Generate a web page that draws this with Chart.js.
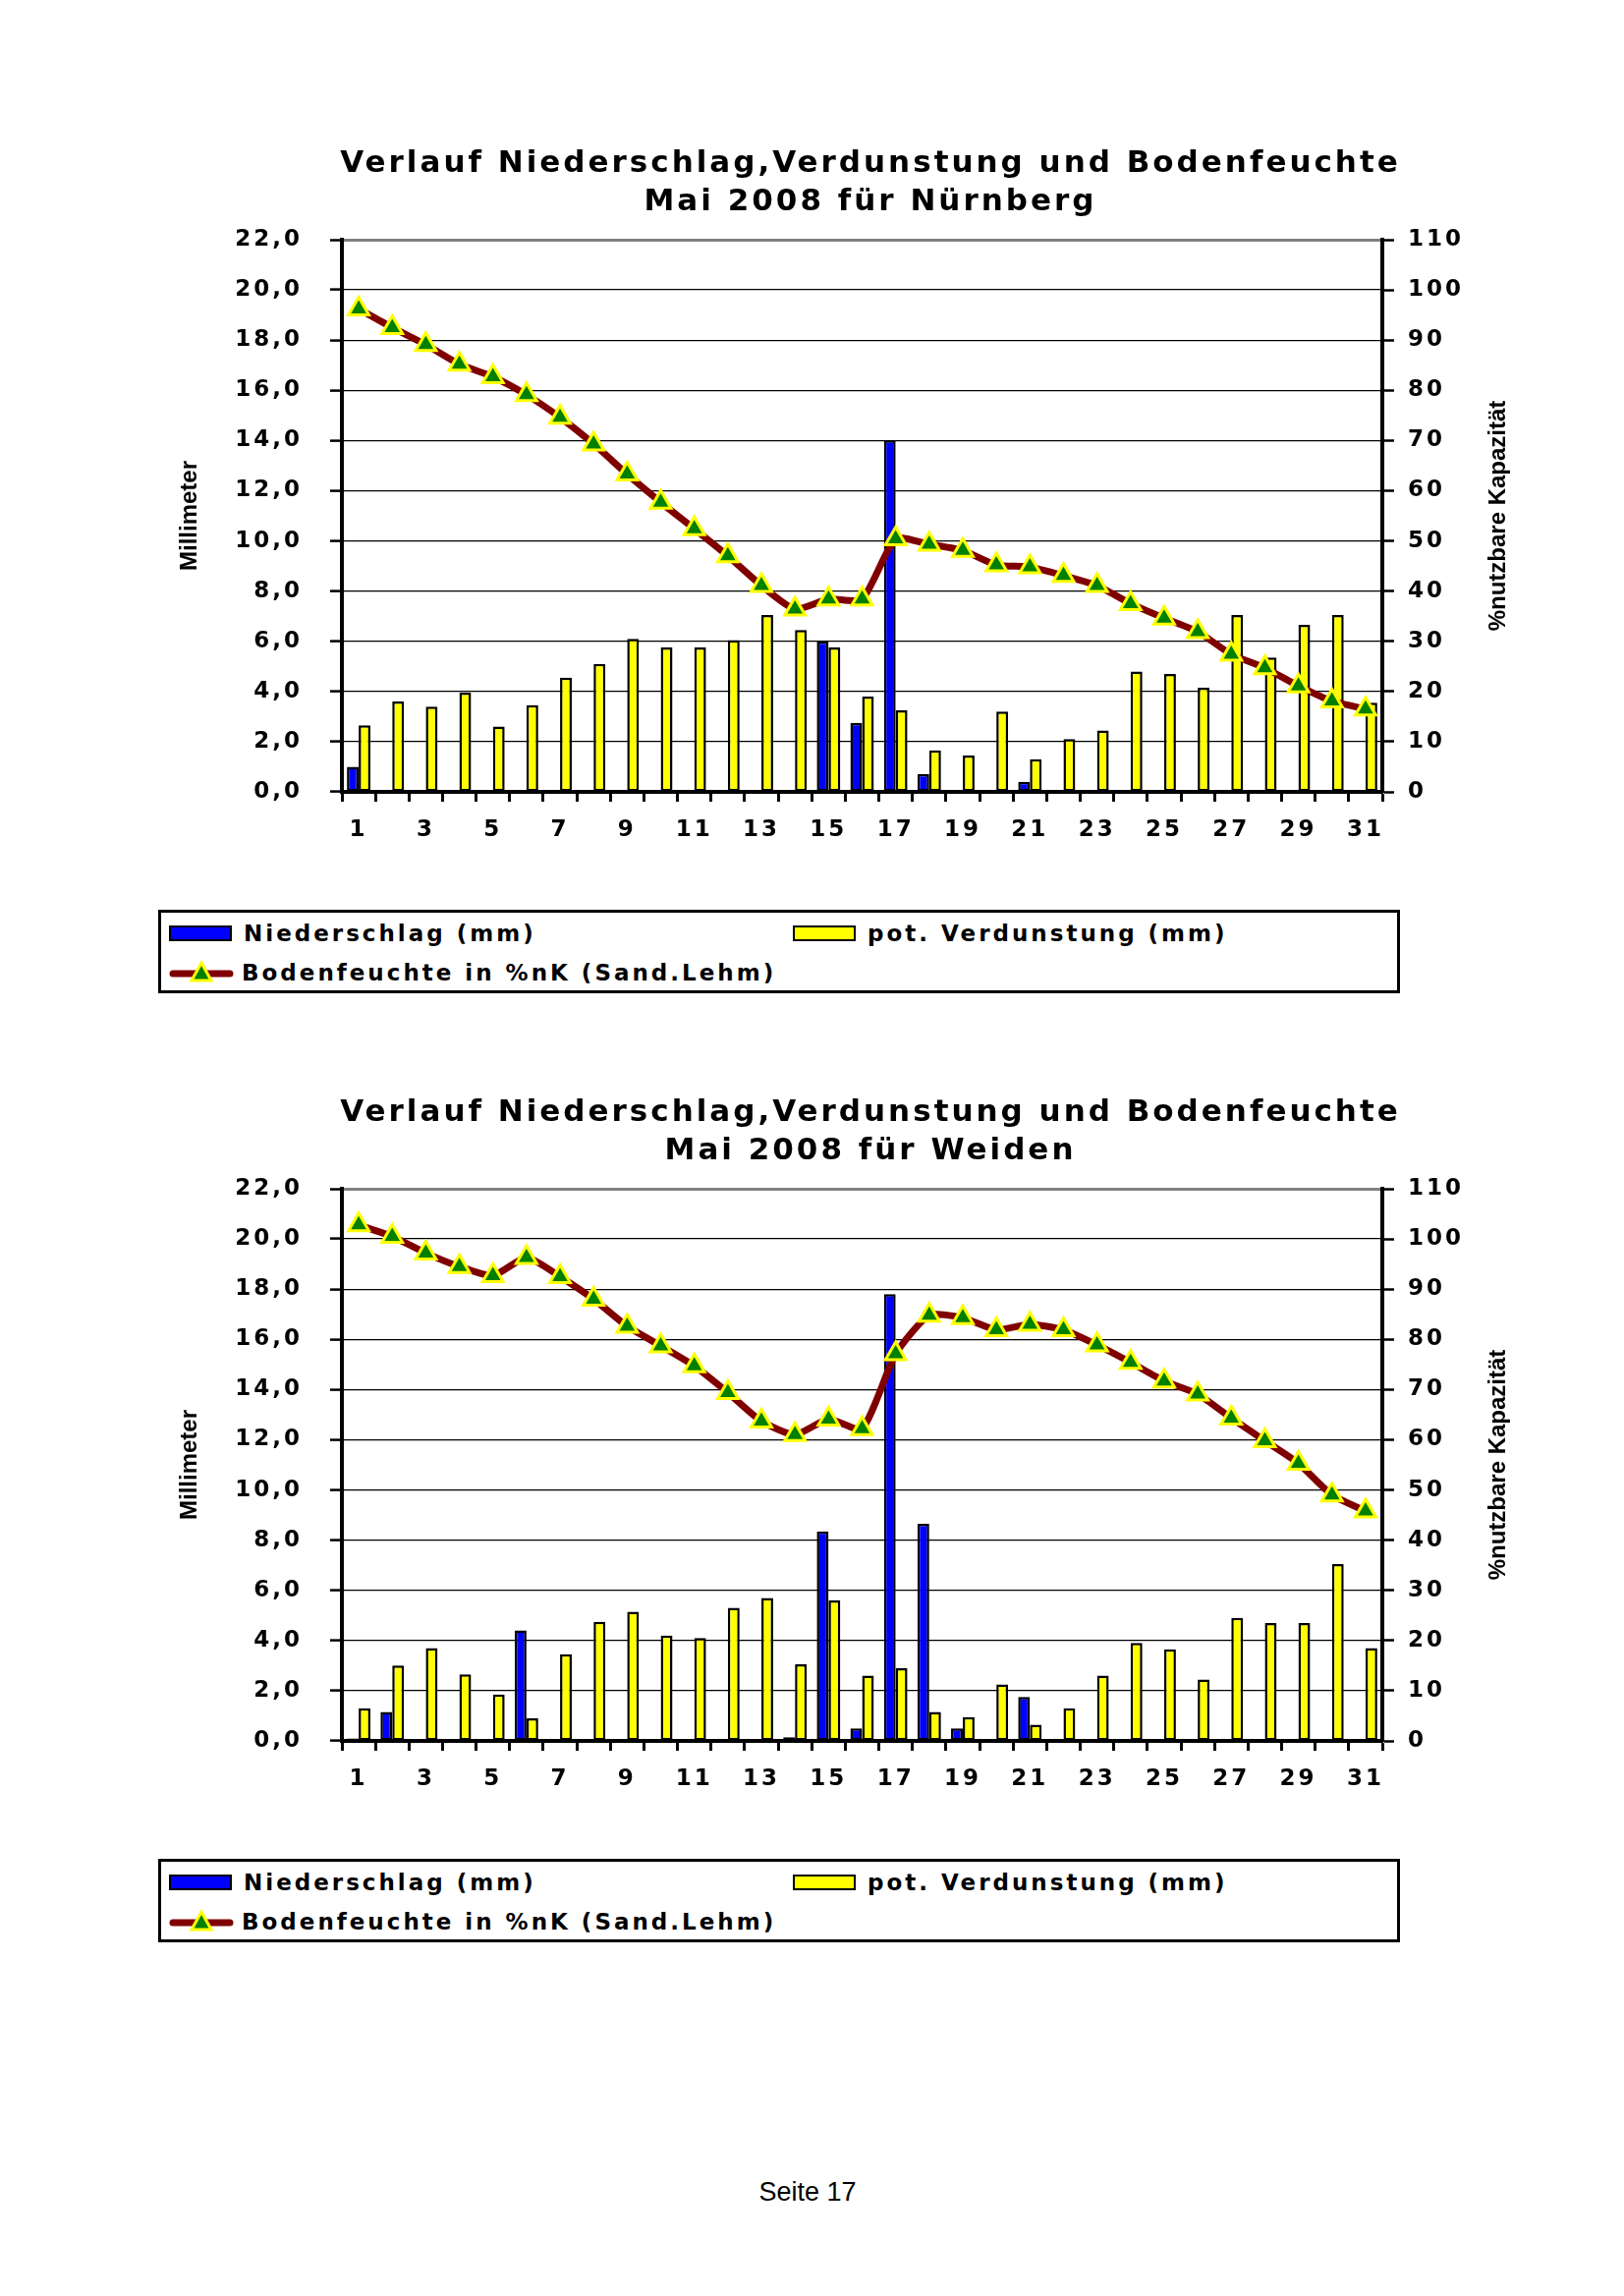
<!DOCTYPE html>
<html>
<head>
<meta charset="utf-8">
<title>Niederschlag, Verdunstung und Bodenfeuchte Mai 2008</title>
<script src="https://cdn.jsdelivr.net/npm/chart.js@4.4.0/dist/chart.umd.min.js"></script>
<style>
  body { margin: 0; background: #fff; }
  #page { position: relative; width: 1653px; height: 2337px; background: #fff; overflow: hidden; }
  .chartBox { position: absolute; left: 150px; width: 1472px; height: 753px; }
  .legend {
    position: absolute; left: 161px; width: 1264px; height: 85px;
    border: 3px solid #000; box-sizing: border-box;
    font: bold 23px "DejaVu Sans", sans-serif; letter-spacing: 3px; color: #000;
  }
  .legend .item { position: absolute; display: flex; align-items: center; height: 30px; white-space: nowrap; }
  .legend .swatch { display: inline-block; width: 60px; height: 12px; border: 2px solid #000; margin-right: 12px; }
  .legend svg { margin-right: 8px; }
  #footer { position: absolute; left: 0; width: 1644px; top: 2216px; text-align: center;
    font: 27px "Liberation Sans", Arial, sans-serif; color: #000; }
</style>
</head>
<body>
<div id="page">
  <div class="chartBox" style="top:130px"><canvas id="chartNbg"></canvas></div>
  <div class="legend" id="legendNbg" style="top:926px"></div>
  <div class="chartBox" style="top:1096px"><canvas id="chartWei"></canvas></div>
  <div class="legend" id="legendWei" style="top:1892px"></div>
  <div id="footer">Seite 17</div>
</div>
<script>
// Tage im Mai 2008
const days = ['1', '2', '3', '4', '5', '6', '7', '8', '9', '10', '11', '12', '13', '14', '15', '16',
  '17', '18', '19', '20', '21', '22', '23', '24', '25', '26', '27', '28', '29', '30', '31'];

// Nürnberg
const rainNbg = [1.0, null, null, null, null, null, null, null, null, null, null, null, null, null,
  6.0, 2.75, 14.0, 0.7, null, null, 0.4, null, null, null, null, null, null, null, null, null, null];
const evapNbg = [2.65, 3.6, 3.4, 3.95, 2.6, 3.45, 4.55, 5.1, 6.1, 5.75, 5.75, 6.05, 7.05, 6.45, 5.75,
  3.8, 3.25, 1.65, 1.45, 3.2, 1.3, 2.1, 2.45, 4.8, 4.7, 4.15, 7.05, 5.35, 6.65, 7.05, 3.55];
const soilNbg = [96.2, 92.5, 89.1, 85.2, 82.7, 79.1, 74.6, 69.3, 63.3, 57.7, 52.4, 47.0, 41.1, 36.4, 38.4,
  38.4, 50.4, 49.3, 48.1, 45.2, 44.8, 43.1, 41.1, 37.5, 34.6, 31.9, 27.4, 24.7, 21.1, 18.1, 16.5];

// Weiden
const rainWei = [0.1, 1.15, null, null, null, 4.4, null, null, null, null, null, null, null, 0.15,
  8.35, 0.5, 17.8, 8.65, 0.5, null, 1.75, null, null, null, null, null, null, null, null, null, null];
const evapWei = [1.3, 3.0, 3.7, 2.65, 1.85, 0.9, 3.45, 4.75, 5.15, 4.2, 4.1, 5.3, 5.7, 3.05, 5.6,
  2.6, 2.9, 1.15, 0.95, 2.25, 0.65, 1.3, 2.6, 3.9, 3.65, 2.45, 4.9, 4.7, 4.7, 7.05, 3.7];
const soilWei = [102.8, 100.5, 97.2, 94.5, 92.7, 96.3, 92.5, 88.0, 82.6, 78.7, 74.7, 69.4, 63.7, 61.0, 64.1,
  62.2, 77.1, 84.8, 84.3, 81.9, 83.0, 81.9, 78.9, 75.4, 71.7, 69.1, 64.3, 59.8, 55.3, 49.0, 45.8];

const titleLine1 = 'Verlauf Niederschlag,Verdunstung und Bodenfeuchte';
const leftTitle = 'Millimeter';
const rightTitle = '%nutzbare Kapazität';

// Excel-artige Sperrung der Schrift auf der Zeichenfläche
const spacing = {
  id: 'spacing',
  beforeDraw(chart) { chart.ctx.letterSpacing = '3px'; }
};

// Achsentitel, beide von unten nach oben gelesen
const axisTitles = {
  id: 'axisTitles',
  afterDraw(chart, args, opts) {
    const { ctx, chartArea } = chart;
    const midY = (chartArea.top + chartArea.bottom) / 2;
    ctx.save();
    ctx.letterSpacing = '0px';
    ctx.font = 'bold 24px "Liberation Sans"';
    ctx.fillStyle = '#000';
    ctx.textAlign = 'center';
    ctx.textBaseline = 'middle';
    [[opts.leftX, opts.left], [opts.rightX, opts.right]].forEach(([x, text]) => {
      ctx.save();
      ctx.translate(x, midY);
      ctx.rotate(-Math.PI / 2);
      ctx.fillText(text, 0, 0);
      ctx.restore();
    });
    ctx.restore();
  }
};

const tickFont = { family: 'DejaVu Sans', size: 23, weight: 'bold' };

function makeChart(canvasId, legendId, station, rain, evap, soil) {
  const ctx = document.getElementById(canvasId).getContext('2d');
  const chart = new Chart(ctx, {
    type: 'bar',
    data: {
      labels: days,
      datasets: [
        {
          label: 'Niederschlag (mm)',
          data: rain,
          backgroundColor: '#0000ff',
          borderColor: '#000',
          borderWidth: 2.5,
          borderSkipped: false,
          yAxisID: 'y',
          order: 1
        },
        {
          label: 'pot. Verdunstung (mm)',
          data: evap,
          backgroundColor: '#ffff00',
          borderColor: '#000',
          borderWidth: 2.5,
          borderSkipped: false,
          yAxisID: 'y',
          order: 1
        },
        {
          type: 'line',
          label: 'Bodenfeuchte in %nK (Sand.Lehm)',
          data: soil,
          borderColor: '#800000',
          borderWidth: 7,
          tension: 0.2,
          pointStyle: 'triangle',
          pointRadius: 12,
          pointBackgroundColor: '#008000',
          pointBorderColor: '#ffff00',
          pointBorderWidth: 3,
          yAxisID: 'y1',
          order: 0
        }
      ]
    },
    options: {
      responsive: true,
      maintainAspectRatio: false,
      animation: false,
      layout: { padding: 0 },
      datasets: {
        bar: { categoryPercentage: 0.7, barPercentage: 1.0 }
      },
      plugins: {
        legend: { display: false },
        tooltip: { enabled: false },
        title: {
          display: true,
          text: [titleLine1, 'Mai 2008 für ' + station],
          color: '#000',
          font: { family: 'DejaVu Sans', size: 31, weight: 'bold', lineHeight: 1.242 },
          padding: { top: 18, bottom: 19 }
        },
        axisTitles: { left: leftTitle, right: rightTitle, leftX: 43, rightX: 1375 }
      },
      scales: {
        x: {
          offset: true,
          afterFit(scale) { scale.height = 77; },
          grid: {
            display: true, drawOnChartArea: false, offset: true,
            tickLength: 10, tickColor: '#000', tickWidth: 3
          },
          border: { color: '#000', width: 4 },
          ticks: {
            autoSkip: false, maxRotation: 0, padding: 15, color: '#000', font: tickFont,
            callback(value, index) { return index % 2 === 0 ? this.getLabelForValue(value) : ''; }
          }
        },
        y: {
          position: 'left',
          min: 0, max: 22,
          afterFit(scale) { scale.width = 198; },
          grid: {
            color: c => (c.tick.value === 22 ? '#808080' : '#000'),
            lineWidth: c => (c.tick.value === 22 ? 3 : 1.2),
            tickLength: 12, tickColor: '#000', tickWidth: 2.5
          },
          border: { color: '#000', width: 4 },
          ticks: {
            stepSize: 2, padding: 28, color: '#000', font: tickFont,
            callback: v => v.toFixed(1).replace('.', ',')
          }
        },
        y1: {
          position: 'right',
          min: 0, max: 110,
          afterFit(scale) { scale.width = 215; },
          grid: { drawOnChartArea: false, tickLength: 12, tickColor: '#000', tickWidth: 2.5 },
          border: { color: '#000', width: 4 },
          ticks: { stepSize: 10, padding: 14, color: '#000', font: tickFont }
        }
      }
    },
    plugins: [spacing, axisTitles]
  });
  buildLegend(chart, document.getElementById(legendId));
  return chart;
}

function buildLegend(chart, box) {
  box.innerHTML = '';
  const slots = [[8, 6], [643, 6], [8, 46]];
  chart.data.datasets.forEach((ds, i) => {
    const item = document.createElement('div');
    item.className = 'item';
    item.style.left = slots[i][0] + 'px';
    item.style.top = slots[i][1] + 'px';
    if (ds.type === 'line') {
      item.innerHTML =
        '<svg width="66" height="28" viewBox="0 0 66 28">' +
        '<line x1="4" y1="15" x2="62" y2="15" stroke="' + ds.borderColor + '" stroke-width="7" stroke-linecap="round"/>' +
        '<polygon points="33,4 43,22 23,22" fill="' + ds.pointBackgroundColor + '" stroke="' + ds.pointBorderColor + '" stroke-width="3"/>' +
        '</svg>';
    } else {
      const sw = document.createElement('span');
      sw.className = 'swatch';
      sw.style.background = ds.backgroundColor;
      item.appendChild(sw);
    }
    item.appendChild(document.createTextNode(ds.label));
    box.appendChild(item);
  });
}

makeChart('chartNbg', 'legendNbg', 'Nürnberg', rainNbg, evapNbg, soilNbg);
makeChart('chartWei', 'legendWei', 'Weiden', rainWei, evapWei, soilWei);
</script>
</body>
</html>
